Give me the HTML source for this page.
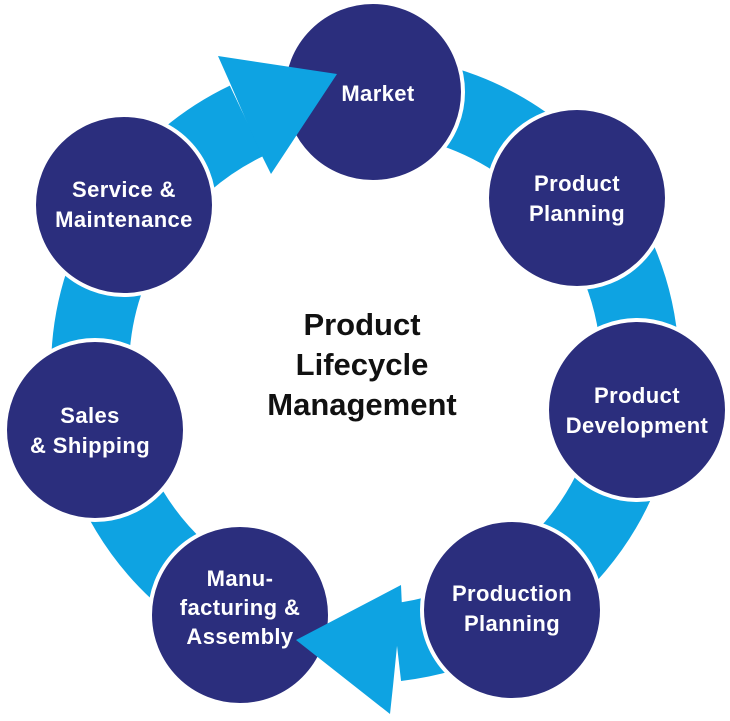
<!DOCTYPE html>
<html><head><style>body{margin:0;background:#fff}</style></head><body>
<svg width="730" height="716" viewBox="0 0 730 716" xmlns="http://www.w3.org/2000/svg" font-family="Liberation Sans, sans-serif" font-weight="bold">
<g fill="none" stroke="#0ea3e2" stroke-width="78">
<path d="M365,94 A275,275 0 0 1 396.6,642.2"/>
<path d="M240.2,614 A275,275 0 0 1 246.6,120.8"/>
</g>
<g fill="#2b2e7d" stroke="#fff" stroke-width="4">
<circle cx="373" cy="92" r="90"/>
<circle cx="240" cy="615" r="90"/>
</g>
<g fill="#0ea3e2">
<path d="M218,56 L337,74 L271,174 L262,156 L246,120 L230,83 Z"/>
<path d="M401,585 L296,640 L390,714 L393,686 L397,646 L402,608 Z"/>
</g>
<g fill="#2b2e7d" stroke="#fff" stroke-width="4">
<circle cx="577" cy="198" r="90"/>
<circle cx="637" cy="410" r="90"/>
<circle cx="512" cy="610" r="90"/>
<circle cx="95" cy="430" r="90"/>
<circle cx="124" cy="205" r="90"/>
</g>
<g fill="#fff" font-size="22" text-anchor="middle" letter-spacing="0.4">
<text x="378" y="101">Market</text>
<text x="577" y="191">Product</text><text x="577" y="221">Planning</text>
<text x="637" y="403">Product</text><text x="637" y="433">Development</text>
<text x="512" y="601">Production</text><text x="512" y="631">Planning</text>
<text x="240" y="586">Manu-</text><text x="240" y="615">facturing &amp;</text><text x="240" y="644">Assembly</text>
<text x="90" y="423">Sales</text><text x="90" y="453">&amp; Shipping</text>
<text x="124" y="197">Service &amp;</text><text x="124" y="227">Maintenance</text>
</g>
<g fill="#111" font-size="31" text-anchor="middle">
<text x="362" y="335">Product</text>
<text x="362" y="375">Lifecycle</text>
<text x="362" y="415">Management</text>
</g>
</svg>
</body></html>
